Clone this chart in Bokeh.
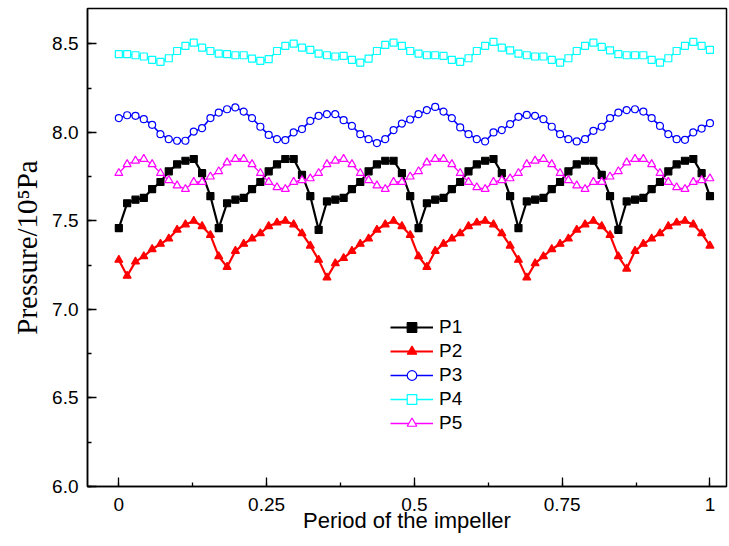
from bokeh.plotting import figure
from bokeh.models import FixedTicker, Range1d, Legend
from bokeh.embed import file_html
from bokeh.resources import INLINE

N = 72
x = [i / 71 for i in range(N)]

p1 = [7.46, 7.60, 7.62, 7.63, 7.68, 7.72, 7.78, 7.82, 7.84, 7.85, 7.77, 7.64,
      7.46, 7.60, 7.62, 7.63, 7.68, 7.72, 7.78, 7.82, 7.85, 7.85, 7.76, 7.64,
      7.45, 7.61, 7.62, 7.63, 7.68, 7.72, 7.78, 7.82, 7.84, 7.84, 7.77, 7.64,
      7.46, 7.60, 7.62, 7.63, 7.68, 7.72, 7.78, 7.82, 7.84, 7.85, 7.77, 7.64,
      7.46, 7.61, 7.62, 7.63, 7.68, 7.72, 7.78, 7.82, 7.84, 7.84, 7.76, 7.64,
      7.45, 7.61, 7.62, 7.63, 7.68, 7.72, 7.78, 7.82, 7.84, 7.85, 7.77, 7.64]

p2 = [7.28, 7.19, 7.27, 7.30, 7.34, 7.37, 7.40, 7.45, 7.48, 7.50, 7.47, 7.42,
      7.30, 7.24, 7.33, 7.37, 7.40, 7.43, 7.47, 7.49, 7.50, 7.48, 7.43, 7.36,
      7.28, 7.18, 7.26, 7.29, 7.33, 7.37, 7.40, 7.45, 7.48, 7.50, 7.47, 7.42,
      7.30, 7.24, 7.33, 7.37, 7.40, 7.43, 7.47, 7.49, 7.50, 7.48, 7.43, 7.36,
      7.28, 7.18, 7.26, 7.30, 7.34, 7.37, 7.40, 7.45, 7.48, 7.50, 7.47, 7.42,
      7.30, 7.23, 7.33, 7.37, 7.40, 7.43, 7.47, 7.49, 7.50, 7.48, 7.43, 7.36]

p3 = [8.081, 8.097, 8.094, 8.075, 8.043, 7.990, 7.962, 7.953, 7.953, 8.005, 8.024, 8.081,
      8.112, 8.131, 8.141, 8.118, 8.081, 8.032, 7.986, 7.962, 7.957, 8.000, 8.019, 8.065,
      8.094, 8.103, 8.103, 8.069, 8.037, 7.990, 7.962, 7.940, 7.962, 8.013, 8.050, 8.073,
      8.103, 8.126, 8.144, 8.118, 8.081, 8.028, 7.990, 7.962, 7.949, 8.000, 8.013, 8.047,
      8.088, 8.099, 8.094, 8.075, 8.032, 7.990, 7.962, 7.949, 7.962, 8.009, 8.032, 8.081,
      8.112, 8.126, 8.131, 8.118, 8.081, 8.037, 7.990, 7.962, 7.958, 8.000, 8.022, 8.052]

p4 = [8.442, 8.442, 8.436, 8.429, 8.410, 8.398, 8.419, 8.460, 8.489, 8.507, 8.479, 8.460,
      8.445, 8.442, 8.436, 8.436, 8.417, 8.404, 8.414, 8.460, 8.489, 8.502, 8.479, 8.466,
      8.445, 8.436, 8.429, 8.432, 8.410, 8.394, 8.417, 8.460, 8.494, 8.507, 8.489, 8.460,
      8.445, 8.436, 8.436, 8.432, 8.410, 8.398, 8.419, 8.460, 8.489, 8.511, 8.479, 8.464,
      8.445, 8.436, 8.429, 8.429, 8.410, 8.394, 8.419, 8.460, 8.489, 8.507, 8.483, 8.464,
      8.442, 8.436, 8.436, 8.436, 8.410, 8.394, 8.419, 8.460, 8.489, 8.511, 8.489, 8.466]

p5 = [7.77, 7.82, 7.84, 7.85, 7.82, 7.77, 7.73, 7.70, 7.68, 7.72, 7.72, 7.75,
      7.78, 7.83, 7.85, 7.85, 7.82, 7.77, 7.72, 7.69, 7.68, 7.72, 7.73, 7.74,
      7.77, 7.82, 7.84, 7.85, 7.82, 7.77, 7.73, 7.70, 7.68, 7.72, 7.72, 7.75,
      7.78, 7.83, 7.85, 7.85, 7.82, 7.77, 7.72, 7.69, 7.68, 7.72, 7.73, 7.74,
      7.77, 7.82, 7.84, 7.85, 7.82, 7.77, 7.73, 7.70, 7.68, 7.72, 7.72, 7.75,
      7.78, 7.83, 7.85, 7.85, 7.82, 7.77, 7.72, 7.69, 7.68, 7.72, 7.73, 7.74]

x_ticks = [0, 0.25, 0.5, 0.75, 1]
x_tick_labels = ["0", "0.25", "0.5", "0.75", "1"]
x_minor = [-0.125 + 0.125 * k for k in range(0, 11)]
y_ticks = [6.0, 6.5, 7.0, 7.5, 8.0, 8.5]
y_tick_labels = ["6.0", "6.5", "7.0", "7.5", "8.0", "8.5"]
y_minor = [6.0 + 0.25 * k for k in range(0, 12)]

series = [
    ("P1", p1, "#000000", "square", 7, "#000000", 2.2),
    ("P2", p2, "#FF0000", "triangle", 8, "#FF0000", 2.2),
    ("P3", p3, "#0000FF", "circle", 7, "white", 1.6),
    ("P4", p4, "#00FFFF", "square", 7, "white", 1.6),
    ("P5", p5, "#FF00FF", "triangle", 8, "white", 1.3),
]

p = figure(width=729, height=546, output_backend="svg", toolbar_location=None,
           x_range=Range1d(-0.053, 1.028), y_range=Range1d(6.0, 8.7),
           min_border_left=87, min_border_right=3, min_border_top=8, min_border_bottom=60)
p.background_fill_color = "white"
p.border_fill_color = "white"
p.outline_line_color = "black"
p.outline_line_width = 1.5
p.xgrid.visible = False
p.ygrid.visible = False

items = []
for name, ys, col, mk, sz, fill, lw in series:
    r1 = p.line(x, ys, line_color=col, line_width=lw)
    r2 = p.scatter(x, ys, marker=mk, size=sz, line_color=col, fill_color=fill, line_width=1.2)
    items.append((name, [r1, r2]))


def style_axis(ax, major, minor):
    ax.ticker = FixedTicker(ticks=major, minor_ticks=minor)
    ax.axis_line_width = 1.5
    ax.axis_line_color = "black"
    ax.major_tick_in = 9
    ax.major_tick_out = 0
    ax.minor_tick_in = 4
    ax.minor_tick_out = 0
    ax.major_tick_line_width = 1.3
    ax.minor_tick_line_width = 1.3
    ax.major_tick_line_color = "black"
    ax.minor_tick_line_color = "black"


xa = p.xaxis[0]
style_axis(xa, x_ticks, x_minor)
xa.major_label_overrides = {t: l for t, l in zip(x_ticks, x_tick_labels)}
xa.major_label_text_font = "Liberation Sans"
xa.major_label_text_font_size = "19px"
xa.major_label_text_color = "black"
xa.major_label_standoff = 11
xa.axis_label = "Period of the impeller"
xa.axis_label_text_font = "Liberation Sans"
xa.axis_label_text_font_size = "22px"
xa.axis_label_text_font_style = "normal"
xa.axis_label_text_color = "black"
xa.axis_label_standoff = -6

ya = p.yaxis[0]
style_axis(ya, y_ticks, y_minor)
ya.major_label_overrides = {t: l for t, l in zip(y_ticks, y_tick_labels)}
ya.major_label_text_font = "Liberation Sans"
ya.major_label_text_font_size = "19px"
ya.major_label_text_color = "black"
ya.major_label_standoff = 9
ya.axis_label = "Pressure/10\u2075Pa"
ya.axis_label_text_font = "Liberation Serif"
ya.axis_label_text_font_size = "29px"
ya.axis_label_text_font_style = "normal"
ya.axis_label_text_color = "black"
ya.axis_label_standoff = 6

legend = Legend(items=items, location=(303, 51))
legend.border_line_color = None
legend.background_fill_alpha = 0
legend.label_text_font = "Liberation Sans"
legend.label_text_font_size = "19px"
legend.label_text_color = "black"
legend.glyph_width = 43
legend.glyph_height = 24
legend.label_height = 24
legend.label_standoff = 6
legend.spacing = 0
legend.padding = 0
legend.margin = 0
p.add_layout(legend, "center")

open("out.html", "w").write(file_html(p, INLINE))
